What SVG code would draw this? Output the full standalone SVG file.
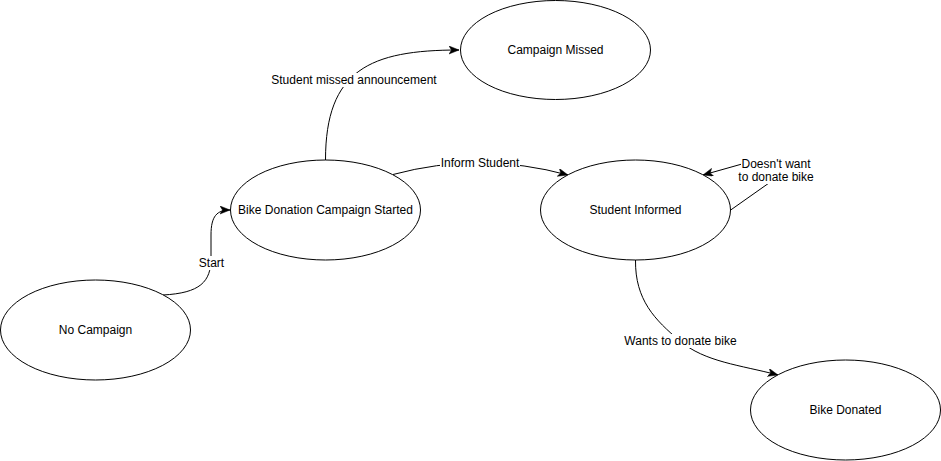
<svg xmlns="http://www.w3.org/2000/svg" width="941" height="461" viewBox="0 0 941 461">
<style>
.node ellipse{fill:#fff;stroke:#000;stroke-width:1}
.node text,.lbl text{font-family:"Liberation Sans",Arial,sans-serif;font-size:12px;fill:#000;text-anchor:middle;dominant-baseline:central}
.edge{fill:none;stroke:#000;stroke-width:1;marker-end:url(#arr)}
.lbl rect{fill:#fff}
</style>
<defs>
<marker id="arr" markerUnits="userSpaceOnUse" markerWidth="12" markerHeight="10" refX="10" refY="4" orient="auto">
<path d="M0,0 L10,4 L0,8 L2.5,4 Z" fill="#000" stroke="#000" stroke-width="0.5"/>
</marker>
</defs>
<rect width="941" height="461" fill="#fff"/>
<g id="connectors">
<path class="edge" d="M163,295 C200,293 211,282 211,258 L211,235 C211,216 217,210 230,210"/>
<path class="edge" d="M325.5,160 C325.5,70 370,50 459,50"/>
<path class="edge" d="M393,174.5 Q480,151 568,175"/>
<path class="edge" d="M730.7,210 L769,183 L776,170 L742,164 L703,175"/>
<path class="edge" d="M635.5,260 C635,300 655,320 680,341 S740,365 778,375"/>
<g class="lbl">
<rect x="198" y="256" width="27" height="14"/><text x="211.5" y="263">Start</text>
<rect x="277" y="73" width="154" height="14"/><text x="354" y="80">Student missed announcement</text>
<rect x="440" y="156" width="80" height="14"/><text x="480" y="163">Inform Student</text>
<rect x="741" y="156" width="70" height="28"/><text x="776" y="163.5">Doesn't want</text><text x="776" y="177">to donate bike</text>
<rect x="628" y="334" width="105" height="14"/><text x="680.5" y="341">Wants to donate bike</text>
</g>
</g>
<g id="no-campaign" class="node"><ellipse cx="95.5" cy="330" rx="95" ry="50"/><text x="95.5" y="330">No Campaign</text></g>
<g id="campaign-started" class="node"><ellipse cx="325.5" cy="210" rx="95" ry="50"/><text x="325.5" y="210">Bike Donation Campaign Started</text></g>
<g id="campaign-missed" class="node"><ellipse cx="555.5" cy="50" rx="95" ry="49.5"/><text x="555.5" y="50">Campaign Missed</text></g>
<g id="student-informed" class="node"><ellipse cx="635.5" cy="210" rx="95" ry="50"/><text x="635.5" y="210">Student Informed</text></g>
<g id="bike-donated" class="node"><ellipse cx="845.5" cy="410" rx="95" ry="50"/><text x="845.5" y="410">Bike Donated</text></g>
</svg>
